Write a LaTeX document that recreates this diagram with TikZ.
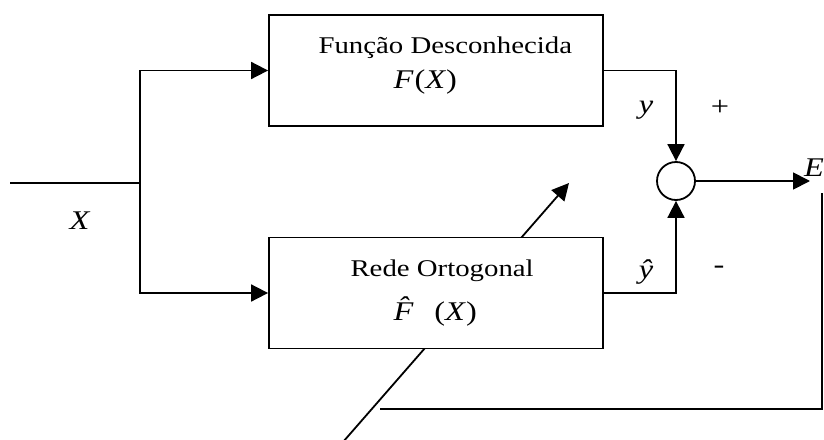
\documentclass[tikz,border=0pt]{standalone}
\usepackage{fontspec}
\setmainfont{Liberation Serif}[FakeStretch=1.2]
\usetikzlibrary{arrows.meta,backgrounds}

\begin{document}
\begin{tikzpicture}[
x=1pt, y=-1pt,
node distance=222.5pt,
font=\fontsize{24}{28}\selectfont,
block/.style={
draw,
rectangle,
line width=1.8pt,
fill=white,
minimum width=334pt,
minimum height=111pt
},
sumnode/.style={
draw,
circle,
line width=1.8pt,
minimum size=38pt,
inner sep=0pt
},
arrow/.style={
-{Triangle[length=17pt,width=17pt]},
line width=1.8pt
},
wire/.style={
line width=1.8pt
},
var/.style={
font=\fontsize{27}{30}\selectfont
}
]
\useasboundingbox (0,0) rectangle (824,439);

\node[block] (fbox) at (436,70.5) {};
\node[block] (rbox) [below of=fbox] {};
\node[sumnode] (sum) at (676,181) {};

\node[anchor=base west] (ftitle) at (315,53) {Função Desconhecida};
\node[var, anchor=base west] (fexpr) at (390,88) {\textit{F}\kern1pt(\textit{X})};
\node[anchor=base west] (rtitle) at (347,276) {Rede Ortogonal};
\node[var, anchor=base west] (rexpr) at (390,320) {\textit{\^{F}}\,\,(\textit{X})};

\coordinate (in) at (10,183);
\coordinate (split) at (140,183);
\coordinate (eout) at (810,181);
\coordinate (fbtop) at (822,193);
\coordinate (fbend) at (380,409);
\coordinate (adapt0) at (343,442);
\coordinate (adapt1) at (569,183);

\node[var] (xlbl) at (80,221) {\textit{X}};
\node[var] (ylbl) at (646,110) {\textit{y}};
\node[var] (plus) at (720,108) {+};
\node[var] (yhat) at (646,272) {\textit{ŷ}};
\node[var] (minus) at (719,270) {-};
\node[var] (elbl) at (814,168) {\textit{E}};

\draw[wire] (in) -- (split);
\draw[arrow] (split) |- (fbox.west);
\draw[arrow] (split) |- (rbox.west);
\draw[arrow] (fbox.east) -| (sum.north);
\draw[arrow] (rbox.east) -| (sum.south);
\draw[arrow] (sum.east) -- (eout);
\draw[wire] (fbtop) |- (fbend);

\begin{pgfonlayer}{background}
\draw[arrow] (adapt0) -- (adapt1);
\end{pgfonlayer}

\end{tikzpicture}
\end{document}
